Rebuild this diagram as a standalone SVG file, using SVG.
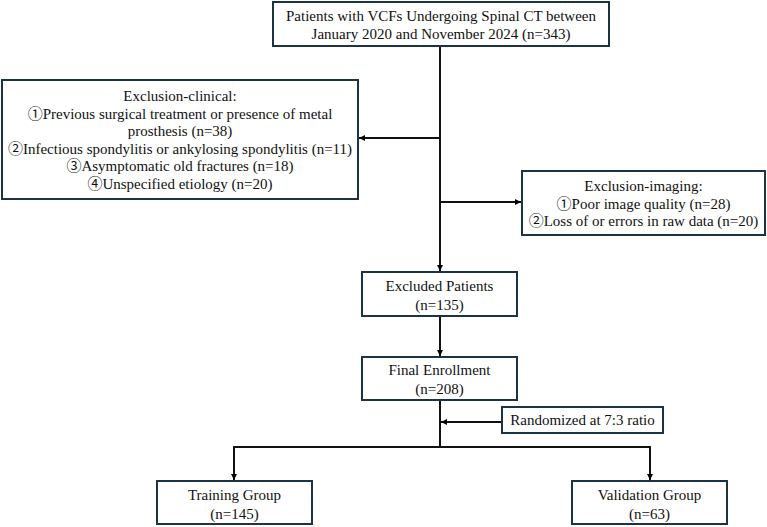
<svg xmlns="http://www.w3.org/2000/svg" width="767" height="527" viewBox="0 0 767 527">
<defs>
<marker id="ah" viewBox="0 0 10 10" refX="10" refY="5" markerWidth="6" markerHeight="6" markerUnits="userSpaceOnUse" orient="auto">
<path d="M0,0 L10,5 L0,10 z" fill="#000"/>
</marker>
<style>
.box{fill:#fff;stroke:#1c3344;stroke-width:2}
.t{font-family:"Liberation Serif","Noto Sans CJK SC",serif;font-size:15px;fill:#111;text-anchor:middle}
.c{fill:none;stroke:#111;stroke-width:2}
</style>
</defs>
<rect width="767" height="527" fill="#fff"/>
<g id="connectors">
<line class="c" x1="440" y1="46" x2="440" y2="271" marker-end="url(#ah)"/>
<line class="c" x1="440" y1="138" x2="359" y2="138" marker-end="url(#ah)"/>
<line class="c" x1="440" y1="202" x2="521" y2="202" marker-end="url(#ah)"/>
<line class="c" x1="440" y1="316" x2="440" y2="356" marker-end="url(#ah)"/>
<line class="c" x1="440" y1="400" x2="440" y2="447"/>
<line class="c" x1="502" y1="422" x2="441" y2="422" marker-end="url(#ah)"/>
<polyline class="c" points="234,480 234,447 650,447 650,480" marker-end="url(#ah)"/>
<line class="c" x1="234" y1="447" x2="234" y2="480" marker-end="url(#ah)"/>
</g>
<g id="n_patients">
<rect class="box" x="273" y="2" width="336" height="44"/>
<text class="t" x="441" y="21">Patients with VCFs Undergoing Spinal CT between</text>
<text class="t" x="441" y="38.5">January 2020 and November 2024 (n=343)</text>
</g>
<g id="n_clinical">
<rect class="box" x="2" y="80" width="356" height="119"/>
<text class="t" x="180" y="101">Exclusion-clinical:</text>
<text class="t" x="180" y="118.5">①Previous surgical treatment or presence of metal</text>
<text class="t" x="180" y="136">prosthesis (n=38)</text>
<text class="t" x="180" y="153.5">②Infectious spondylitis or ankylosing spondylitis (n=11)</text>
<text class="t" x="180" y="171">③Asymptomatic old fractures (n=18)</text>
<text class="t" x="180" y="188.5">④Unspecified etiology (n=20)</text>
</g>
<g id="n_imaging">
<rect class="box" x="522" y="171" width="243" height="64"/>
<text class="t" x="643.5" y="191">Exclusion-imaging:</text>
<text class="t" x="643.5" y="208.5">①Poor image quality (n=28)</text>
<text class="t" x="643.5" y="226">②Loss of or errors in raw data (n=20)</text>
</g>
<g id="n_excluded">
<rect class="box" x="362" y="272" width="155" height="44"/>
<text class="t" x="439.5" y="291">Excluded Patients</text>
<text class="t" x="439.5" y="310">(n=135)</text>
</g>
<g id="n_final">
<rect class="box" x="362" y="357" width="155" height="43"/>
<text class="t" x="439.5" y="375">Final Enrollment</text>
<text class="t" x="439.5" y="394">(n=208)</text>
</g>
<g id="n_random">
<rect class="box" x="502" y="407" width="161" height="26"/>
<text class="t" x="582.5" y="425">Randomized at 7:3 ratio</text>
</g>
<g id="n_training">
<rect class="box" x="157" y="481" width="155" height="43"/>
<text class="t" x="234.5" y="500">Training Group</text>
<text class="t" x="234.5" y="519">(n=145)</text>
</g>
<g id="n_validation">
<rect class="box" x="572" y="481" width="155" height="43"/>
<text class="t" x="649.5" y="500">Validation Group</text>
<text class="t" x="649.5" y="519">(n=63)</text>
</g>
</svg>
